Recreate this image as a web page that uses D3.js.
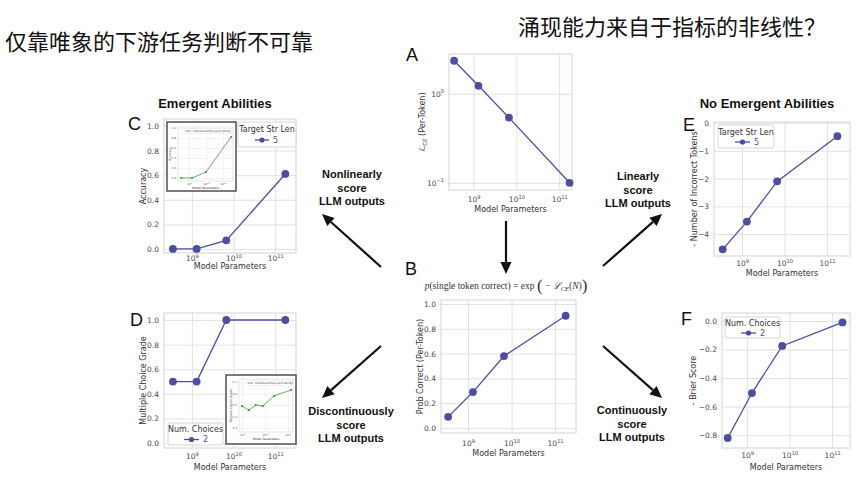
<!DOCTYPE html>
<html><head><meta charset="utf-8">
<script src="https://cdn.jsdelivr.net/npm/d3@7"></script>
<style>body{margin:0;background:#fff}svg{display:block}</style>
</head><body>
<svg id="c" width="861" height="484"></svg>
<script>
// ---------- data ----------
const params = [3.5e8, 1.3e9, 6.7e9, 1.75e11];
const lossCE = [2.35, 1.23, 0.54, 0.10];
const probCorrect = [0.09, 0.29, 0.58, 0.905];
const accuracy = [0.0, 0.0, 0.07, 0.61];
const mcGrade = [0.5, 0.5, 1.0, 1.0];
const negIncorrect = [-4.55, -3.55, -2.1, -0.47];
const negBrier = [-0.82, -0.505, -0.175, -0.01];
const insetCParams = [3.4e8, 1.5e9, 1e10, 3e11];
const insetCAcc = [0.0, 0.0, 0.12, 0.82];
const insetDParams = [1e9, 2e9, 4e9, 8e9, 2.5e10, 1.37e11];
const insetDGrade = [0.49, 0.455, 0.5, 0.49, 0.58, 0.63];
const xTicks = [1e9, 1e10, 1e11];
const unitTicks = [0, 0.2, 0.4, 0.6, 0.8, 1.0];
const incorrectTicks = [0, -1, -2, -3, -4];
const brierTicks = [0, -0.2, -0.4, -0.6, -0.8];
const lossTicks = [1, 0.1];
const insetDTicks = [0.3, 0.4, 0.5, 0.6, 0.7];

// ---------- style ----------
const svg = d3.select('#c');
const COLOR = '#4d4da2';
const GREEN = '#3f9b3f';
const GRID = '#e2e2e2';
const FRAME = '#d4d4d4';
const TICKC = '#4a4a4a';
const TF = 'DejaVu Sans, sans-serif';
const AF = 'Liberation Sans, Arial, sans-serif';

function supLabel(sel, base, exp, fs) {
  sel.text(null);
  sel.append('tspan').text(base);
  sel.append('tspan').attr('dy', -fs * 0.45).attr('font-size', fs * 0.68).text(exp);
}
const expOf = d => { const e = Math.round(Math.log10(d)); return e < 0 ? '\u2212' + (-e) : String(e); };

function panel(o) {
  const g = svg.append('g');
  const fs = o.fs || 7.5;
  const x = d3.scaleLog().domain(o.xdom).range([o.x0, o.x1]);
  const y = (o.ylog ? d3.scaleLog() : d3.scaleLinear()).domain(o.ydom).range([o.y1, o.y0]);
  g.append('rect').attr('x', o.x0).attr('y', o.y0).attr('width', o.x1 - o.x0).attr('height', o.y1 - o.y0)
    .attr('fill', '#fff');
  // x axis + grid
  const gx = g.append('g').attr('transform', `translate(0,${o.y1})`)
    .call(d3.axisBottom(x).tickValues(o.xticks || xTicks).tickSize(-(o.y1 - o.y0)).tickPadding(3));
  gx.select('.domain').remove();
  gx.selectAll('.tick line').attr('stroke', o.grid || GRID).attr('stroke-width', o.gw || 1);
  gx.selectAll('.tick text').attr('y', o.tickBase - o.y1).attr('dy', null)
    .attr('font-family', TF).attr('font-size', fs).attr('fill', TICKC)
    .each(function (d) { supLabel(d3.select(this), '10', o.xexp ? o.xexp(d) : expOf(d), fs); });
  // y axis + grid
  const gy = g.append('g').attr('transform', `translate(${o.x0},0)`)
    .call(d3.axisLeft(y).tickValues(o.yticks).tickSize(-(o.x1 - o.x0)).tickPadding(o.ypad || 5));
  gy.select('.domain').remove();
  gy.selectAll('.tick line').attr('stroke', o.grid || GRID).attr('stroke-width', o.gw || 1);
  const tt = gy.selectAll('.tick text').attr('font-family', TF).attr('font-size', fs).attr('fill', TICKC);
  if (o.ylog) tt.each(function (d) { supLabel(d3.select(this), '10', expOf(d), fs); });
  else tt.text(o.yfmt);
  // frame
  g.append('rect').attr('x', o.x0).attr('y', o.y0).attr('width', o.x1 - o.x0).attr('height', o.y1 - o.y0)
    .attr('fill', 'none').attr('stroke', o.frame || FRAME).attr('stroke-width', o.fw || 1);
  // data
  const pts = o.xs.map((v, i) => [v, o.ys[i]]);
  g.append('path').attr('d', d3.line().x(d => x(d[0])).y(d => y(d[1]))(pts))
    .attr('fill', 'none').attr('stroke', o.color || COLOR).attr('stroke-width', o.lw || 1.3);
  g.selectAll('circle.pt').data(pts).join('circle').attr('class', 'pt')
    .attr('cx', d => x(d[0])).attr('cy', d => y(d[1])).attr('r', o.r || 3.9)
    .attr('fill', o.color || COLOR);
  // labels
  if (o.xlabel !== false)
    g.append('text').attr('x', (o.x0 + o.x1) / 2).attr('y', o.xlabBase).attr('text-anchor', 'middle')
      .attr('font-family', TF).attr('font-size', o.lfs || 8).attr('fill', '#333').text('Model Parameters');
  const yl = g.append('text').attr('transform', `translate(${o.ylabX},${(o.y0 + o.y1) / 2}) rotate(-90)`)
    .attr('text-anchor', 'middle').attr('dy', '0.35em')
    .attr('font-family', TF).attr('font-size', o.lfs || 8).attr('fill', '#333');
  if (typeof o.ylabel === 'function') o.ylabel(yl); else yl.text(o.ylabel);
  return { g, x, y };
}

function legend(o) {
  const g = svg.append('g');
  g.append('rect').attr('x', o.x).attr('y', o.y).attr('width', o.w).attr('height', o.h).attr('rx', 2)
    .attr('fill', '#fff').attr('fill-opacity', 0.9).attr('stroke', '#cccccc').attr('stroke-width', 0.8);
  g.append('text').attr('x', o.x + o.w / 2).attr('y', o.titleBase).attr('text-anchor', 'middle')
    .attr('font-family', TF).attr('font-size', 8).attr('fill', '#333').text(o.title);
  g.append('line').attr('x1', o.lx0).attr('x2', o.lx1).attr('y1', o.ey).attr('y2', o.ey)
    .attr('stroke', COLOR).attr('stroke-width', 1.3);
  g.append('circle').attr('cx', (o.lx0 + o.lx1) / 2).attr('cy', o.ey).attr('r', 2.6).attr('fill', COLOR);
  g.append('text').attr('x', o.lx1 + 4).attr('y', o.ey).attr('dy', '0.35em')
    .attr('font-family', TF).attr('font-size', 8).attr('fill', COLOR).text(o.label);
}

// ---------- titles ----------
svg.append('text').attr('x', 5).attr('y', 50).attr('font-family', 'Noto Sans CJK SC')
  .attr('font-size', 22).attr('fill', '#111').text('仅靠唯象的下游任务判断不可靠');
svg.append('text').attr('x', 518).attr('y', 35).attr('font-family', 'Noto Sans CJK SC')
  .attr('font-size', 22).attr('fill', '#111').text('涌现能力来自于指标的非线性？');
svg.append('text').attr('x', 215).attr('y', 108).attr('text-anchor', 'middle').attr('font-family', AF)
  .attr('font-weight', 'bold').attr('font-size', 13).attr('fill', '#111').text('Emergent Abilities');
svg.append('text').attr('x', 767).attr('y', 108).attr('text-anchor', 'middle').attr('font-family', AF)
  .attr('font-weight', 'bold').attr('font-size', 13).attr('fill', '#111').text('No Emergent Abilities');

// panel letters
[['A', 406, 61], ['B', 405, 275], ['C', 128, 130], ['D', 130, 326], ['E', 683, 131], ['F', 681, 325]]
  .forEach(([t, x, y]) => svg.append('text').attr('x', x).attr('y', y).attr('font-family', AF)
    .attr('font-size', 18).attr('fill', '#111').text(t));

// ---------- panels ----------
// A
panel({
  x0: 449, x1: 572, y0: 54, y1: 190, xdom: [Math.pow(10, 8.425), Math.pow(10, 11.3)],
  ydom: [0.083, 2.8], ylog: true, yticks: lossTicks, xs: params, ys: lossCE,
  tickBase: 202, xlabBase: 212, ylabX: 422,
  ylabel: sel => {
    sel.append('tspan').attr('font-style', 'italic').text('\u2112');
    sel.append('tspan').attr('font-size', 5.5).attr('dy', 2).attr('font-style', 'italic').text('CE');
    sel.append('tspan').attr('dy', -2).text(' (Per-Token)');
  }
});
// B
panel({
  x0: 441, x1: 576, y0: 300, y1: 433, xdom: [Math.pow(10, 8.38), Math.pow(10, 11.48)],
  ydom: [-0.04, 1.032], yticks: unitTicks, yfmt: d3.format('.1f'), xs: params, ys: probCorrect,
  tickBase: 446, xlabBase: 456, ylabX: 420, ylabel: 'Prob Correct (Per-Token)'
});
// C
panel({
  x0: 164, x1: 296, y0: 119, y1: 253, xdom: [Math.pow(10, 8.33), Math.pow(10, 11.5)],
  ydom: [-0.033, 1.057], yticks: unitTicks, yfmt: d3.format('.1f'), xs: params, ys: accuracy,
  tickBase: 261, xlabBase: 269, ylabX: 143, ylabel: 'Accuracy'
});
// D
panel({
  x0: 164, x1: 296, y0: 313, y1: 448, xdom: [Math.pow(10, 8.33), Math.pow(10, 11.5)],
  ydom: [-0.04, 1.057], yticks: unitTicks, yfmt: d3.format('.1f'), xs: params, ys: mcGrade,
  tickBase: 459, xlabBase: 470, ylabX: 143, ylabel: 'Multiple Choice Grade'
});
// E
panel({
  x0: 714, x1: 850, y0: 122, y1: 256, xdom: [Math.pow(10, 8.34), Math.pow(10, 11.54)],
  ydom: [-4.79, 0.04], yticks: incorrectTicks, yfmt: d => d === 0 ? '0' : '\u2212' + Math.abs(d),
  xs: params, ys: negIncorrect, tickBase: 266, xlabBase: 276, ylabX: 694,
  ylabel: '- Number of Incorrect Tokens'
});
// F
panel({
  x0: 722, x1: 850, y0: 313, y1: 448, xdom: [Math.pow(10, 8.41), Math.pow(10, 11.42)],
  ydom: [-0.89, 0.056], yticks: brierTicks,
  yfmt: d => d === 0 ? '0.0' : '\u2212' + Math.abs(d).toFixed(1),
  xs: params, ys: negBrier, tickBase: 458, xlabBase: 470, ylabX: 693, ylabel: '- Brier Score'
});

// ---------- legends ----------
legend({ x: 238, y: 122, w: 58, h: 25, title: 'Target Str Len', titleBase: 132, ey: 140, lx0: 255, lx1: 269, label: '5' });
legend({ x: 718, y: 125, w: 56, h: 23, title: 'Target Str Len', titleBase: 134.5, ey: 142, lx0: 735, lx1: 750, label: '5' });
legend({ x: 725, y: 317, w: 55, h: 21, title: 'Num. Choices', titleBase: 326, ey: 333, lx0: 741, lx1: 756, label: '2' });
legend({ x: 168, y: 423, w: 55, h: 22, title: 'Num. Choices', titleBase: 432, ey: 439.5, lx0: 184, lx1: 199, label: '2' });

// ---------- insets ----------
function inset(o) {
  svg.append('rect').attr('x', o.bx0).attr('y', o.by0).attr('width', o.bx1 - o.bx0).attr('height', o.by1 - o.by0)
    .attr('fill', '#fff').attr('stroke', '#5a5a5a').attr('stroke-width', 1.6);
  panel({
    x0: o.x0, x1: o.x1, y0: o.y0, y1: o.y1, xdom: o.xdom, ydom: o.ydom, yticks: o.yticks,
    yfmt: d3.format('.1f'), xs: o.xs, ys: o.ys, tickBase: o.y1 + 4, xlabBase: o.y1 + 8,
    ylabX: o.x0 - 8, ylabel: o.ylabel, fs: 2.8, lfs: 3, ypad: 2, r: 1.1, lw: 0.8, color: GREEN,
    grid: '#e6e6e6', gw: 0.5, frame: '#cfcfcf', fw: 0.5
  });
  const lg = svg.append('g');
  lg.append('rect').attr('x', o.lgx).attr('y', o.y0 + 1.5).attr('width', o.x1 - o.lgx - 1.5).attr('height', 5)
    .attr('fill', '#fff').attr('stroke', '#ddd').attr('stroke-width', 0.4);
  lg.append('line').attr('x1', o.lgx + 1.5).attr('x2', o.lgx + 7).attr('y1', o.y0 + 4).attr('y2', o.y0 + 4)
    .attr('stroke', GREEN).attr('stroke-width', 0.8);
  lg.append('text').attr('x', o.lgx + 9).attr('y', o.y0 + 4).attr('dy', '0.35em').attr('font-family', TF)
    .attr('font-size', 2.8).attr('fill', '#444').text('Published Emergent Ability');
}
inset({
  bx0: 167, bx1: 236, by0: 122, by1: 191, x0: 178, x1: 233, y0: 127, y1: 181,
  xdom: [Math.pow(10, 8.35), Math.pow(10, 11.59)], ydom: [-0.06, 1.02], yticks: unitTicks,
  xs: insetCParams, ys: insetCAcc, ylabel: 'Accuracy', lgx: 184
});
inset({
  bx0: 226, bx1: 296, by0: 375, by1: 444, x0: 239, x1: 293, y0: 379, y1: 432,
  xdom: [Math.pow(10, 8.87), Math.pow(10, 11.22)], ydom: [0.265, 0.726], yticks: insetDTicks,
  xs: insetDParams, ys: insetDGrade, ylabel: 'Multiple Choice Grade', lgx: 246
});

// ---------- formula ----------
const fm = svg.append('text').attr('x', 506).attr('y', 289).attr('text-anchor', 'middle')
  .attr('font-family', 'Liberation Serif, DejaVu Serif, serif').attr('font-size', 9.5).attr('fill', '#333');
fm.append('tspan').attr('font-style', 'italic').text('p');
fm.append('tspan').text('(single token correct) = exp ');
fm.append('tspan').attr('font-size', 17).attr('dy', 2).text('(');
fm.append('tspan').attr('dy', -2).text(' \u2212 ');
fm.append('tspan').attr('font-style', 'italic').text('\u2112');
fm.append('tspan').attr('font-style', 'italic').attr('font-size', 6.5).attr('dy', 2).text('CE');
fm.append('tspan').attr('dy', -2).text('(');
fm.append('tspan').attr('font-style', 'italic').text('N');
fm.append('tspan').text(')');
fm.append('tspan').attr('font-size', 17).attr('dy', 2).text(')');

// ---------- arrows ----------
function arrow(x1, y1, x2, y2) {
  const a = Math.atan2(y2 - y1, x2 - x1), L = 12, W = 5.5;
  const bx = x2 - L * Math.cos(a), by = y2 - L * Math.sin(a);
  svg.append('line').attr('x1', x1).attr('y1', y1).attr('x2', bx).attr('y2', by)
    .attr('stroke', '#111').attr('stroke-width', 2.2);
  const px = -Math.sin(a) * W, py = Math.cos(a) * W;
  svg.append('polygon').attr('points', `${x2},${y2} ${bx + px},${by + py} ${bx - px},${by - py}`).attr('fill', '#111');
}
arrow(381, 267, 322, 214);
arrow(603, 266, 662, 214);
arrow(381, 346, 322, 398);
arrow(603, 346, 662, 398);
arrow(506, 221, 506, 274);

function label3(x, y, lines) {
  const t = svg.append('text').attr('text-anchor', 'middle').attr('font-family', AF)
    .attr('font-weight', 'bold').attr('font-size', 11).attr('fill', '#111');
  lines.forEach((l, i) => t.append('tspan').attr('x', x).attr('y', y + i * 13.5).text(l));
}
label3(352, 178, ['Nonlinearly', 'score', 'LLM outputs']);
label3(638, 180, ['Linearly', 'score', 'LLM outputs']);
label3(351, 415, ['Discontinuously', 'score', 'LLM outputs']);
label3(632, 414, ['Continuously', 'score', 'LLM outputs']);
</script>
</body></html>
